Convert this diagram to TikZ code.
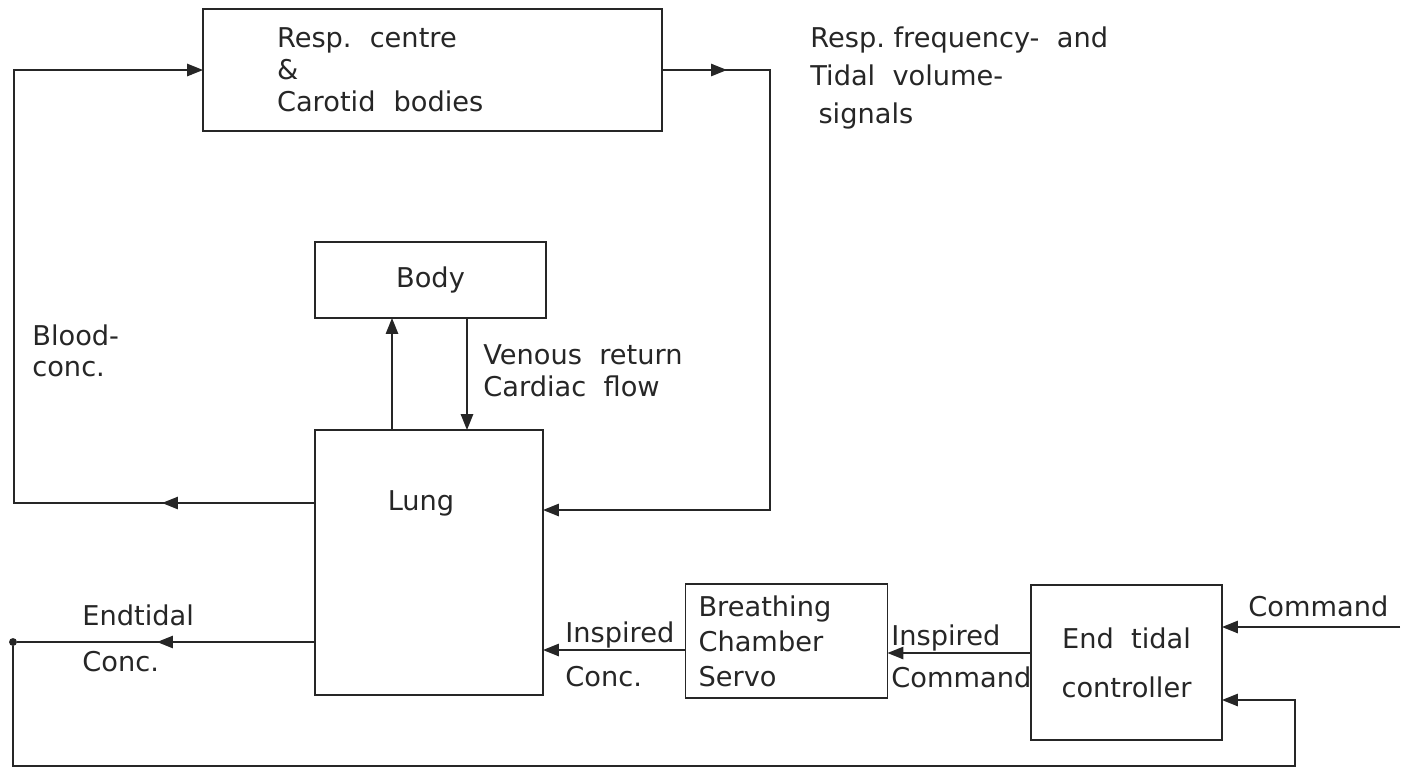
\documentclass[tikz,border=0pt]{standalone}
\usepackage{fontspec}
\setmainfont{DejaVu Sans}
\usetikzlibrary{arrows.meta,decorations.markings}

\begin{document}
\begin{tikzpicture}[x=0.02cm, y=-0.02cm,
	every node/.style={font=\fontsize{15.5}{18}\selectfont, text=black!85},
	box/.style={draw=black!85, line width=0.9pt, inner sep=0pt, outer sep=0pt},
	flow/.style={draw=black!85, line width=0.9pt},
	endarrow/.style={-{Triangle[length=9pt,width=7pt]}},
	midarrow/.style={postaction={decorate}, decoration={markings,
		mark=at position #1 with {\arrow{Triangle[length=9pt,width=7pt]}}}},
	lbl/.style={anchor=west, align=left, inner sep=0pt}]
	%%%%% START %%%%%
	
	\useasboundingbox (0,0) rectangle (1404,779);
	
	% blocks
	\node[box, minimum width=9.18cm, minimum height=2.44cm, text width=6.22cm, inner xsep=1.48cm, align=left,
		font=\fontsize{15.5}{18.2}\selectfont] (resp) at (432.5,70) {Resp.\ \ centre\\\&\\Carotid\ \ bodies};
	\node[box, minimum width=4.62cm, minimum height=1.52cm] (body) at (430.5,280) {Body};
	\node[box, minimum width=4.56cm, minimum height=5.3cm] (lung) at (429,562.5) {};
	\node[inner sep=0pt] (lunglabel) at (421,503) {Lung};
	\node[box, minimum width=3.78cm, minimum height=2.28cm, text width=3.52cm, inner xsep=0.26cm, align=left,
		font=\fontsize{15.5}{20}\selectfont] (breath) at (786.5,641) {Breathing\\Chamber\\Servo};
	\node[box, minimum width=3.82cm, minimum height=3.1cm, align=center,
		font=\fontsize{15.5}{28}\selectfont] (ctrl) at (1126.5,662.5) {End\ \ tidal\\controller};
	
	% corners
	\coordinate (bloodturn) at (14,503);
	\coordinate (respturn) at (resp.west -| bloodturn);
	\coordinate (sigdown) at (770,510);
	\coordinate (sigturn) at (resp.east -| sigdown);
	\node[circle, fill=black!85, inner sep=0pt, minimum size=4.5pt] (endtidal) at (13,642) {};
	\coordinate (fbturn) at (1295,766);
	\coordinate (fbin) at (1295,700);
	\coordinate (cmdin) at (1400,627);
	\coordinate (inspout) at ([yshift=-0.18cm]breath.west);
	\coordinate (cmdout) at ([yshift=0.19cm]ctrl.west);
	
	% connectors
	\draw[flow, endarrow, midarrow=3.06cm] (lung.west |- bloodturn) -- (bloodturn) -- (respturn) -- (resp.west);
	\draw[flow, endarrow, midarrow=1.3cm] (resp.east) -- (sigturn) -- (sigdown) -- (lung.east |- sigdown);
	\draw[flow, endarrow] ([xshift=1.54cm]lung.north west) -- ([xshift=1.54cm]lung.north west |- body.south);
	\draw[flow, endarrow] ([xshift=3.04cm]body.south west) -- ([xshift=3.04cm]body.south west |- lung.north);
	\draw[flow, midarrow=3.16cm] (lung.west |- endtidal) -- (endtidal);
	\draw[flow, endarrow] (endtidal) |- (fbturn) -- (fbin) -- (ctrl.east |- fbin);
	\draw[flow, endarrow] (inspout) -- (lung.east |- inspout);
	\draw[flow, endarrow] (cmdout) -- (breath.east |- cmdout);
	\draw[flow, endarrow] (cmdin) -- (ctrl.east |- cmdin);
	
	% signal labels
	\node[lbl, font=\fontsize{15.5}{21.6}\selectfont] (siglabel) at (810,78) {Resp.\ frequency-\ \ and\\Tidal\ \ volume-\\\hspace{0.3em}signals};
	\node[lbl] (bloodlabel) at (32,351) {Blood-\\conc.};
	\node[lbl] (venouslabel) at (483,371) {Venous\ \ return\\Cardiac\ \ flow};
	\node[lbl] (endtidallabel) at (82,615) {Endtidal};
	\node[lbl] (endconclabel) at (82,662) {Conc.};
	\node[lbl] (inspconclabel) at (565,635) {Inspired};
	\node[lbl] (concinlabel) at (565,677) {Conc.};
	\node[lbl] (inspcmdlabel) at (891,638) {Inspired};
	\node[lbl] (cmdoutlabel) at (891,677) {Command};
	\node[lbl] (cmdlabel) at (1248,606) {Command};
	
	%%%%% END %%%%%
\end{tikzpicture}
\end{document}
